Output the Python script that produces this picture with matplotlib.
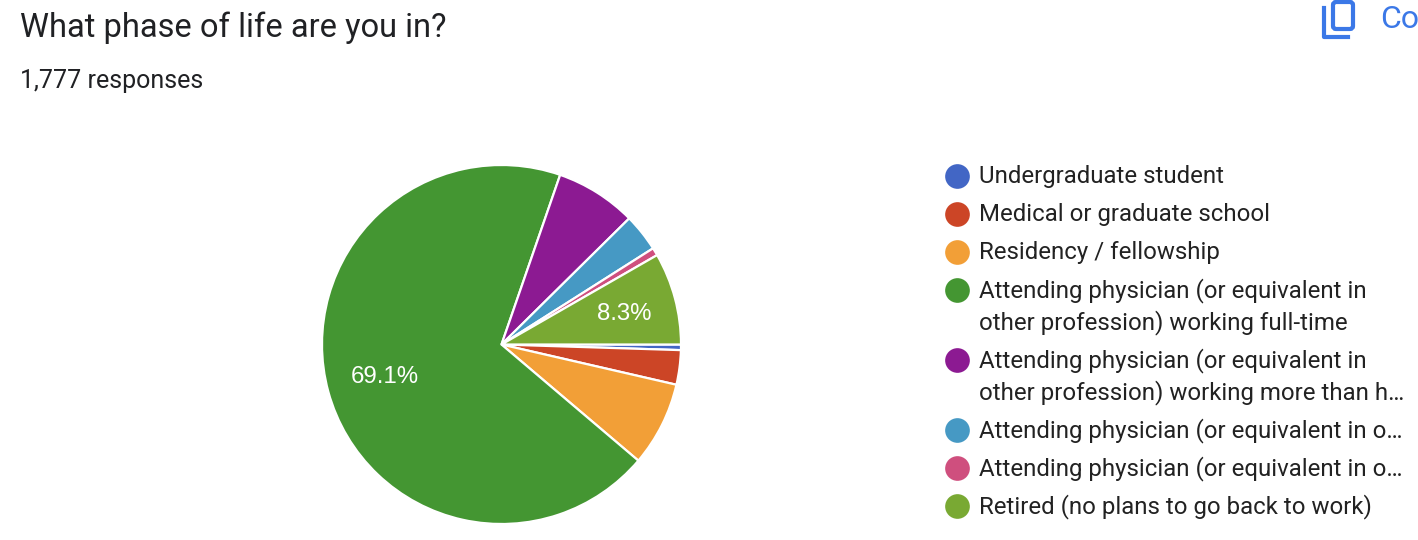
import math
import matplotlib.pyplot as plt
from matplotlib.patches import FancyBboxPatch

W, H = 1418, 540

labels = [
    "Undergraduate student",
    "Medical or graduate school",
    "Residency / fellowship",
    "Attending physician (or equivalent in\nother profession) working full-time",
    "Attending physician (or equivalent in\nother profession) working more than h\u2026",
    "Attending physician (or equivalent in o\u2026",
    "Attending physician (or equivalent in o\u2026",
    "Retired (no plans to go back to work)",
]
values = [0.5, 3.1, 7.6, 69.1, 7.3, 3.4, 0.7, 8.3]
colors = ["#4266c5", "#cc4526", "#f29f37", "#449632", "#8c1a92", "#4699c4", "#cf4f7e", "#79a933"]
legend_y = [176, 214, 252, 290, 360, 430, 468, 506]
shown_pct = {3: "69.1%", 7: "8.3%"}

fig = plt.figure(figsize=(W / 100, H / 100), dpi=100)
plt.rcParams["font.family"] = ["Roboto", "DejaVu Sans"]

# full figure axes in pixel coordinates for the text and icons
bg = fig.add_axes([0, 0, 1, 1])
bg.set_xlim(0, W)
bg.set_ylim(H, 0)
bg.axis("off")

bg.text(20, 27.5, "What phase of life are you in?", fontsize=23.5, color="#202124", va="center")
bg.text(20, 81, "1,777 responses", fontsize=18, color="#202124", va="center")

# copy icon
blue = "#3b78e7"
bg.plot([1324, 1324, 1348], [8, 37, 37], color=blue, lw=3, solid_joinstyle="round")
bg.add_patch(FancyBboxPatch((1333, 2), 20, 27, boxstyle="round,pad=0,rounding_size=3",
                            fc="white", ec=blue, lw=3))
bg.text(1380, 20, "Co", fontsize=23, color=blue, va="center")

# pie
ax = fig.add_axes([(501.5 - 179.5) / W, (H - 344.5 - 179.5) / H, 359 / W, 359 / H])
wedges, _ = ax.pie(values, colors=colors, startangle=0, counterclock=False, radius=1,
                   wedgeprops={"edgecolor": "white", "linewidth": 1.6})
ax.set_xlim(-1, 1)
ax.set_ylim(-1, 1)

for i, pct in shown_pct.items():
    mid = sum(values[:i]) + values[i] / 2
    ang = -mid / 100 * 2 * math.pi
    dist = 0.66 if i == 3 else 0.70
    nudge = (-2, -1) if i == 3 else (1, -2)
    ax.annotate(pct, (dist * math.cos(ang), dist * math.sin(ang)), xytext=nudge,
                textcoords="offset pixels", color="white", fontsize=17.3,
                family=["Liberation Sans", "DejaVu Sans"], ha="center", va="center")

# legend
for lab, c, y in zip(labels, colors, legend_y):
    bg.scatter([957], [y], s=316, color=c, linewidths=0)
    lines = lab.split("\n")
    for j, line in enumerate(lines):
        bg.text(979, y + 7.5 + j * 32, line, fontsize=17.3, color="#222222", va="baseline")

fig.savefig("out.png", dpi=100)
